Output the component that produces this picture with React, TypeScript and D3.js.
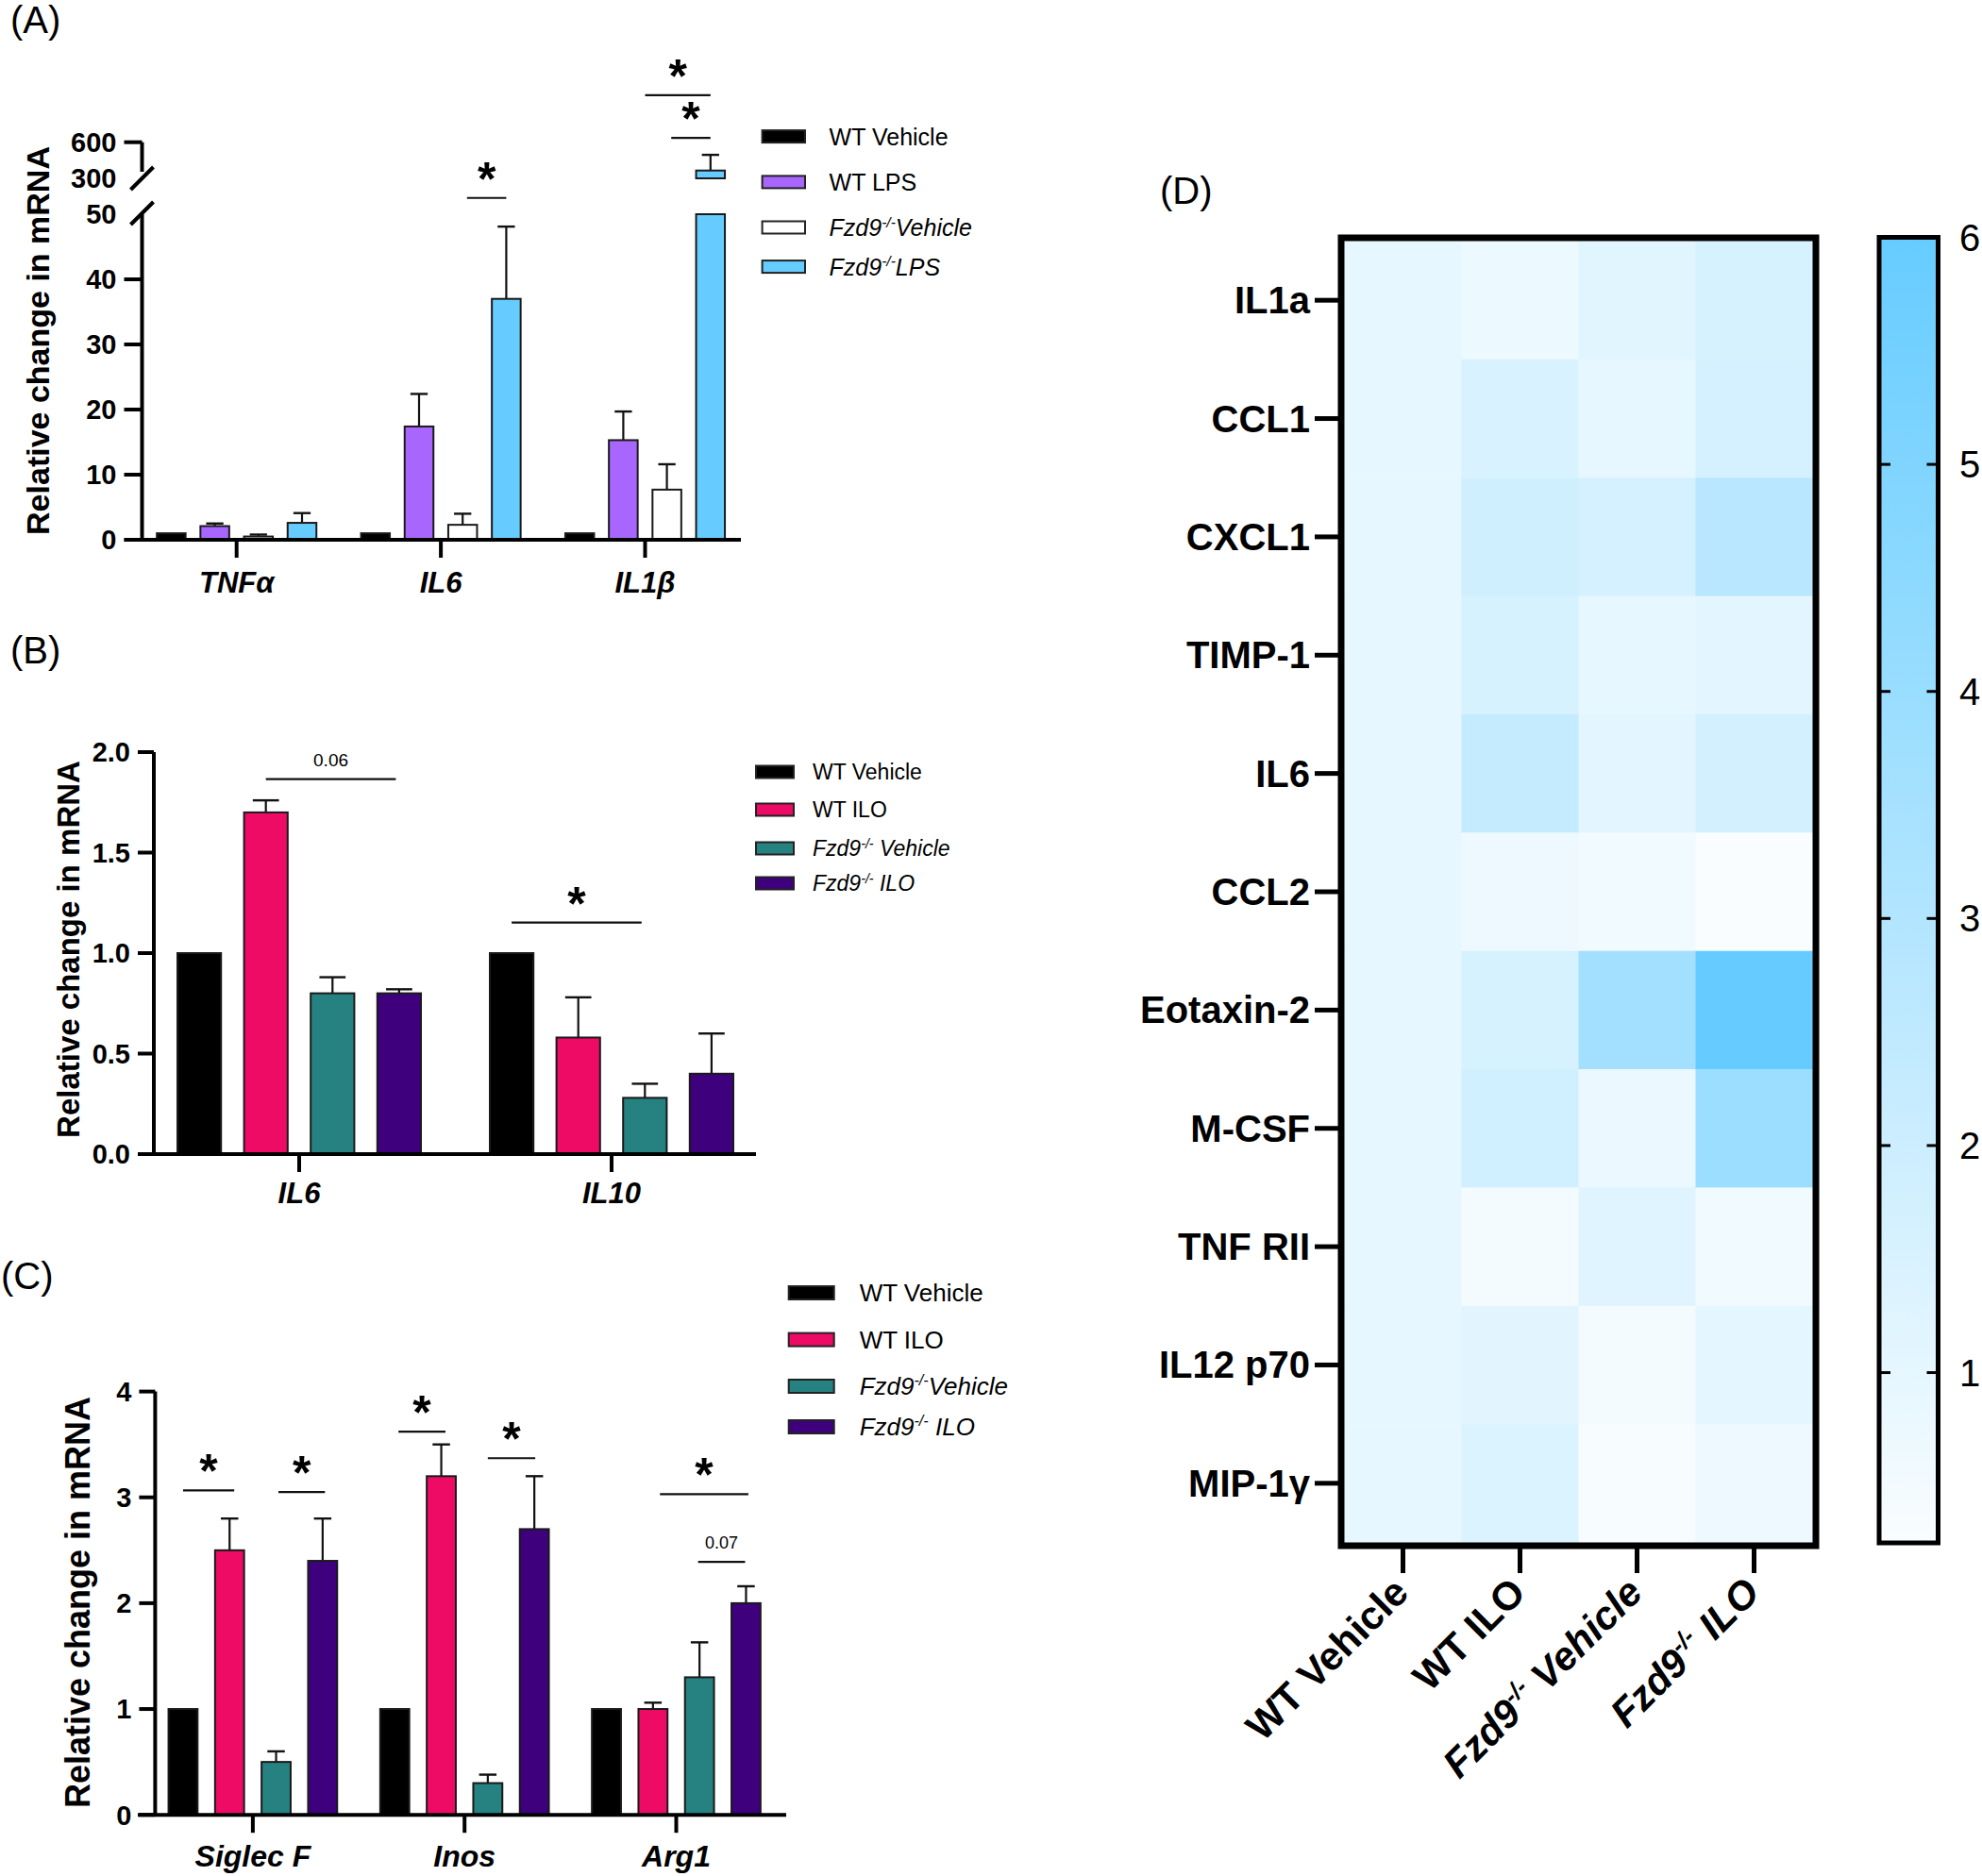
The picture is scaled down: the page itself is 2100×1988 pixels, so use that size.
import React from "react";
import * as d3 from "d3";

const FONT = "'Liberation Sans', Arial, Helvetica, sans-serif";

// ---------------- Panel A data ----------------
const catsA = ["TNFα", "IL6", "IL1β"];
const seriesA = ["WT Vehicle", "WT LPS", "Fzd9-/-Vehicle", "Fzd9-/-LPS"];
const wtVehicleA = [1, 1, 1];
const wtLpsA = [2.1, 17.4, 15.3];
const fzdVehicleA = [0.5, 2.3, 7.7];
const fzdLpsA = [2.6, 37.0, 365];
const wtVehicleErrA = [0, 0, 0];
const wtLpsErrA = [2.5, 22.4, 19.7];
const fzdVehicleErrA = [0.8, 4.0, 11.6];
const fzdLpsErrA = [4.1, 48.1, 495];
const ticksLowA = [0, 10, 20, 30, 40, 50];
const ticksHighA = [300, 600];
const colorsA = ["#000000", "#A966FF", "#FFFFFF", "#66CCFF"];
const sigA = [
  { cat: 1, from: 2.1, to: 3, y: 52.5, label: "*" },
  { cat: 2, from: 1.5, to: 3, y: 990, label: "*" },
  { cat: 2, from: 2.1, to: 3, y: 636, label: "*" },
];

// ---------------- Panel B data ----------------
const catsB = ["IL6", "IL10"];
const seriesBC = ["WT Vehicle", "WT ILO", "Fzd9-/- Vehicle", "Fzd9-/- ILO"];
const seriesC = ["WT Vehicle", "WT ILO", "Fzd9-/-Vehicle", "Fzd9-/- ILO"];
const wtVehicleB = [1, 1];
const wtIloB = [1.7, 0.58];
const fzdVehicleB = [0.8, 0.28];
const fzdIloB = [0.8, 0.4];
const wtVehicleErrB = [0, 0];
const wtIloErrB = [1.76, 0.78];
const fzdVehicleErrB = [0.88, 0.35];
const fzdIloErrB = [0.82, 0.6];
const ticksB = [0, 0.5, 1.0, 1.5, 2.0];
const colorsBC = ["#000000", "#EE0B65", "#268181", "#3F007D"];
const sigB = [
  { cat: 0, from: 1, to: 2.95, y: 1.866, label: "0.06" },
  { cat: 1, from: 0, to: 1.95, y: 1.152, label: "*" },
];

// ---------------- Panel C data ----------------
const catsC = ["Siglec F", "Inos", "Arg1"];
const wtVehicleC = [1, 1, 1];
const wtIloC = [2.5, 3.2, 1.0];
const fzdVehicleC = [0.5, 0.3, 1.3];
const fzdIloC = [2.4, 2.7, 2.0];
const wtVehicleErrC = [0, 0, 0];
const wtIloErrC = [2.8, 3.5, 1.06];
const fzdVehicleErrC = [0.6, 0.38, 1.63];
const fzdIloErrC = [2.8, 3.2, 2.16];
const ticksC = [0, 1, 2, 3, 4];
const sigC = [
  { cat: 0, from: 0, to: 1.1, y: 3.065, label: "*" },
  { cat: 0, from: 2.05, to: 3.05, y: 3.05, label: "*" },
  { cat: 1, from: 0.08, to: 1.09, y: 3.62, label: "*" },
  { cat: 1, from: 2.0, to: 3.02, y: 3.37, label: "*" },
  { cat: 2, from: 1.15, to: 3.05, y: 3.03, label: "*" },
  { cat: 2, from: 1.97, to: 2.98, y: 2.39, label: "0.07" },
];

// ---------------- Panel D data ----------------
const rowsD = ["IL1a", "CCL1", "CXCL1", "TIMP-1", "IL6", "CCL2", "Eotaxin-2", "M-CSF", "TNF RII", "IL12 p70", "MIP-1γ"];
const colsD = ["WT Vehicle", "WT ILO", "Fzd9-/- Vehicle", "Fzd9-/- ILO"];
const wtVehicleD = [1, 1, 1, 1, 1, 1, 1, 1, 1, 1, 1];
const wtIloD = [0.75, 1.5, 1.9, 1.6, 2.3, 0.7, 1.6, 1.8, 0.45, 1.15, 1.4];
const fzdVehicleD = [1.2, 1.0, 1.65, 1.0, 1.1, 0.6, 3.6, 0.8, 1.25, 0.45, 0.35];
const fzdIloD = [1.6, 1.65, 2.8, 1.1, 1.75, 0.2, 6.0, 3.9, 0.6, 1.05, 0.7];
const colorTicksD = [1, 2, 3, 4, 5, 6];
const colorDomainD = [0.25, 6];

// ---------------- helpers ----------------
function labelContent(label: string, fs: number) {
  const m = label.match(/^Fzd9-\/-(.*)$/);
  if (!m) return label;
  return [
    <tspan key="a">Fzd9</tspan>,
    <tspan key="b" fontSize={fs * 0.62} dy={-fs * 0.38}>-/-</tspan>,
    <tspan key="c" dy={fs * 0.38} style={{ whiteSpace: "pre" }}>{m[1]}</tspan>,
  ];
}
const isItalic = (l: string) => l.startsWith("Fzd9");

function Star({ x, lineY, label, fs }: { x: number; lineY: number; label: string; fs: number }) {
  if (label === "*") {
    return (
      <text x={x} y={lineY - 3} textAnchor="middle" fontSize={50} fontWeight="bold" fontFamily={FONT}>*</text>
    );
  }
  return (
    <text x={x} y={lineY - 14} textAnchor="middle" fontSize={fs} fontFamily={FONT}>{label}</text>
  );
}

type Sig = { cat: number; from: number; to: number; y: number; label: string };

function Legend({ series, colors, x, w, h, ys, textX, fs }: any) {
  return (
    <g>
      {series.map((s: string, i: number) => (
        <g key={s}>
          <rect x={x} y={ys[i] - h / 2} width={w} height={h} fill={colors[i]} stroke="#222" strokeWidth={2} />
          <text x={textX} y={ys[i] + fs * 0.36} fontSize={fs} fontFamily={FONT} fontStyle={isItalic(s) ? "italic" : "normal"}>
            {labelContent(s, fs)}
          </text>
        </g>
      ))}
    </g>
  );
}

function BarsAndErrors({ cats, values, errs, colors, gx, off, barW, pos, segs }: any) {
  const out: any[] = [];
  cats.forEach((c: string, ci: number) => {
    values.forEach((vals: number[], si: number) => {
      const cx = (gx(c) as number) + off(si);
      const v = vals[ci];
      const e = errs[si][ci];
      if (e > 0) {
        const yt = pos(v);
        const ye = pos(e);
        out.push(<line key={`el${ci}-${si}`} x1={cx} x2={cx} y1={yt} y2={ye} stroke="#111" strokeWidth={2.2} />);
        out.push(<line key={`ec${ci}-${si}`} x1={cx - barW * 0.3} x2={cx + barW * 0.3} y1={ye} y2={ye} stroke="#111" strokeWidth={2.4} />);
      }
      segs(v).forEach((sg: number[], k: number) => {
        out.push(
          <rect key={`b${ci}-${si}-${k}`} x={cx - barW / 2} y={sg[0]} width={barW} height={Math.max(0, sg[1] - sg[0])}
            fill={colors[si]} stroke="#1a1a1a" strokeWidth={2} />
        );
      });
    });
  });
  return <g>{out}</g>;
}

function SigMarks({ sigs, cats, gx, off, ypos, fs }: any) {
  return (
    <g>
      {sigs.map((s: Sig, i: number) => {
        const g = gx(cats[s.cat]) as number;
        const x1 = g + off(s.from);
        const x2 = g + off(s.to);
        const y = ypos(s.y);
        return (
          <g key={i}>
            <line x1={x1} x2={x2} y1={y} y2={y} stroke="#111" strokeWidth={2.2} />
            <Star x={(x1 + x2) / 2} lineY={y} label={s.label} fs={fs} />
          </g>
        );
      })}
    </g>
  );
}

function YTitle({ cx, cy, fs }: { cx: number; cy: number; fs: number }) {
  return (
    <text transform={`translate(${cx + fs * 0.36},${cy}) rotate(-90)`} textAnchor="middle" fontSize={fs}
      fontWeight="bold" fontFamily={FONT}>Relative change in mRNA</text>
  );
}

function CatAxis({ cats, gx, y0, xr, catY, fs }: any) {
  return (
    <g>
      <line x1={xr[0]} x2={xr[1]} y1={y0} y2={y0} stroke="#000" strokeWidth={4} />
      {cats.map((c: string) => (
        <g key={c}>
          <line x1={gx(c)} x2={gx(c)} y1={y0} y2={y0 + 19} stroke="#000" strokeWidth={4} />
          <text x={gx(c)} y={catY} textAnchor="middle" fontSize={fs} fontWeight="bold" fontStyle="italic" fontFamily={FONT}>{c}</text>
        </g>
      ))}
    </g>
  );
}

// ---------------- Panel A ----------------
function PanelA() {
  const axisX = 150.5;
  const yLow = d3.scaleLinear().domain([0, 50]).range([572, 227]);
  const yHigh = d3.scaleLinear().domain([300, 600]).range([189, 150.7]);
  const gx = d3.scalePoint<string>().domain(catsA).range([250.7, 683.5]);
  const off = d3.scaleLinear().domain([0, 3]).range([-1.5 * 46.2, 1.5 * 46.2]);
  const barW = 30.5;
  const pos = (v: number) => (v > 50 && v >= 300 ? yHigh(v) : yLow(v));
  const segs = (v: number) => (v > 50 ? [[yLow(50), yLow(0)], [yHigh(v), yHigh(300)]] : [[yLow(v), yLow(0)]]);
  const values = [wtVehicleA, wtLpsA, fzdVehicleA, fzdLpsA];
  const errs = [wtVehicleErrA, wtLpsErrA, fzdVehicleErrA, fzdLpsErrA];
  const tickFs = 29;
  return (
    <g>
      <text x={11} y={35} fontSize={40} fontFamily={FONT}>(A)</text>
      <YTitle cx={40} cy={361} fs={34} />
      {/* lower axis */}
      <line x1={axisX} x2={axisX} y1={yLow(50)} y2={yLow(0)} stroke="#000" strokeWidth={4} />
      <line x1={axisX - 12} x2={axisX + 12} y1={yLow(50) + 11} y2={yLow(50) - 13} stroke="#000" strokeWidth={4} />
      {ticksLowA.map((t) => (
        <g key={t}>
          {t !== 50 && <line x1={axisX - 19} x2={axisX} y1={yLow(t)} y2={yLow(t)} stroke="#000" strokeWidth={4} />}
          <text x={axisX - 27} y={yLow(t) + tickFs * 0.36} textAnchor="end" fontSize={tickFs} fontWeight="bold" fontFamily={FONT}>{t}</text>
        </g>
      ))}
      {/* upper axis */}
      <line x1={axisX} x2={axisX} y1={yHigh(600)} y2={yHigh(300) - 7} stroke="#000" strokeWidth={4} />
      <line x1={axisX - 12} x2={axisX + 12} y1={yHigh(300) + 12} y2={yHigh(300) - 12} stroke="#000" strokeWidth={4} />
      {ticksHighA.map((t) => (
        <g key={t}>
          {t !== 300 && <line x1={axisX - 19} x2={axisX} y1={yHigh(t)} y2={yHigh(t)} stroke="#000" strokeWidth={4} />}
          <text x={axisX - 27} y={yHigh(t) + tickFs * 0.36} textAnchor="end" fontSize={tickFs} fontWeight="bold" fontFamily={FONT}>{t}</text>
        </g>
      ))}
      <BarsAndErrors cats={catsA} values={values} errs={errs} colors={colorsA} gx={gx} off={off} barW={barW} pos={pos} segs={segs} />
      <CatAxis cats={catsA} gx={gx} y0={yLow(0)} xr={[131.7, 785]} catY={628} fs={31} />
      <SigMarks sigs={sigA} cats={catsA} gx={gx} off={off} ypos={pos} fs={19} />
      <Legend series={seriesA} colors={colorsA} x={807.6} w={45.4} h={13} ys={[144.6, 192.9, 241, 282.6]} textX={878.6} fs={25} />
    </g>
  );
}

// ---------------- Generic panel (B, C) ----------------
function SimplePanel({ label, labelPos, cats, values, errs, colors, yDomain, yRange, ticks, fmt, axisX, xr, groupRange, step, barW, catY, catFs, title, sigs, sigFs, legend }: any) {
  const y = d3.scaleLinear().domain(yDomain).range(yRange);
  const gx = d3.scalePoint<string>().domain(cats).range(groupRange);
  const off = d3.scaleLinear().domain([0, 3]).range([-1.5 * step, 1.5 * step]);
  const tickFs = 29;
  return (
    <g>
      <text x={labelPos[0]} y={labelPos[1]} fontSize={40} fontFamily={FONT}>{label}</text>
      <YTitle cx={title[0]} cy={title[1]} fs={title[2]} />
      <line x1={axisX} x2={axisX} y1={y(yDomain[1])} y2={y(yDomain[0])} stroke="#000" strokeWidth={4} />
      {ticks.map((t: number) => (
        <g key={t}>
          <line x1={axisX - 17} x2={axisX} y1={y(t)} y2={y(t)} stroke="#000" strokeWidth={4} />
          <text x={axisX - 25} y={y(t) + tickFs * 0.36} textAnchor="end" fontSize={tickFs} fontWeight="bold" fontFamily={FONT}>{fmt(t)}</text>
        </g>
      ))}
      <BarsAndErrors cats={cats} values={values} errs={errs} colors={colors} gx={gx} off={off} barW={barW}
        pos={(v: number) => y(v)} segs={(v: number) => [[y(v), y(0)]]} />
      <CatAxis cats={cats} gx={gx} y0={y(0)} xr={xr} catY={catY} fs={catFs} />
      <SigMarks sigs={sigs} cats={cats} gx={gx} off={off} ypos={(v: number) => y(v)} fs={sigFs} />
      <Legend {...legend} colors={colors} />
    </g>
  );
}

// ---------------- Panel D ----------------
function PanelD() {
  const colVals = [wtVehicleD, wtIloD, fzdVehicleD, fzdIloD];
  const color = d3.scaleLinear<string>().domain([0, 6]).range(["#ffffff", "#66ccff"]);
  const x = d3.scaleBand<string>().domain(colsD).range([1424.5, 1920.5]);
  const y = d3.scaleBand<string>().domain(rowsD).range([255.5, 1634.5]);
  const cb = d3.scaleLinear().domain(colorDomainD).range([1635, 251.5]);
  const cbX0 = 1991, cbX1 = 2053.5;
  const stops = d3.range(0, 11).map((i) => colorDomainD[0] + (i / 10) * (colorDomainD[1] - colorDomainD[0]));
  return (
    <g>
      <text x={1229} y={216} fontSize={40} fontFamily={FONT}>(D)</text>
      {colVals.map((vals, ci) =>
        vals.map((v, ri) => (
          <rect key={`${ci}-${ri}`} x={x(colsD[ci])} y={y(rowsD[ri])} width={x.bandwidth() + 0.5} height={y.bandwidth() + 0.5} fill={color(v)} />
        ))
      )}
      <rect x={1421} y={252} width={503} height={1386} fill="none" stroke="#000" strokeWidth={7} />
      {rowsD.map((r) => {
        const cy = (y(r) as number) + y.bandwidth() / 2;
        return (
          <g key={r}>
            <line x1={1393} x2={1421} y1={cy} y2={cy} stroke="#000" strokeWidth={5} />
            <text x={1388} y={cy + 14} textAnchor="end" fontSize={40} fontWeight="bold" fontFamily={FONT}>{r}</text>
          </g>
        );
      })}
      {colsD.map((c) => {
        const cx = (x(c) as number) + x.bandwidth() / 2;
        return (
          <g key={c}>
            <line x1={cx} x2={cx} y1={1638} y2={1667} stroke="#000" strokeWidth={5} />
            <text transform={`translate(${cx + 8},${1690}) rotate(-45)`} textAnchor="end" fontSize={42} fontWeight="bold"
              fontStyle={isItalic(c) ? "italic" : "normal"} fontFamily={FONT}>{labelContent(c, 42)}</text>
          </g>
        );
      })}
      <defs>
        <linearGradient id="cbgrad" x1="0" y1="1" x2="0" y2="0">
          {stops.map((s, i) => (
            <stop key={i} offset={`${(i / 10) * 100}%`} stopColor={color(s)} />
          ))}
        </linearGradient>
      </defs>
      <rect x={cbX0} y={cb(colorDomainD[1])} width={cbX1 - cbX0} height={cb(colorDomainD[0]) - cb(colorDomainD[1])}
        fill="url(#cbgrad)" stroke="#000" strokeWidth={5} />
      {colorTicksD.map((t) => (
        <g key={t}>
          {t < 6 && <line x1={cbX0 + 2} x2={cbX0 + 12} y1={cb(t)} y2={cb(t)} stroke="#000" strokeWidth={3} />}
          {t < 6 && <line x1={cbX1 - 12} x2={cbX1 - 2} y1={cb(t)} y2={cb(t)} stroke="#000" strokeWidth={3} />}
          <text x={2076} y={cb(t) + 14} fontSize={40} fontFamily={FONT}>{t}</text>
        </g>
      ))}
    </g>
  );
}

export default function App() {
  return (
    <div style={{ position: "absolute", left: 0, top: 0, width: 2100, height: 1988, background: "#fff" }}>
      <svg width={2100} height={1988} viewBox="0 0 2100 1988" xmlns="http://www.w3.org/2000/svg">
        <rect x={0} y={0} width={2100} height={1988} fill="#fff" />
        <PanelA />
        <SimplePanel
          label="(B)" labelPos={[11, 703]} cats={catsB}
          values={[wtVehicleB, wtIloB, fzdVehicleB, fzdIloB]}
          errs={[wtVehicleErrB, wtIloErrB, fzdVehicleErrB, fzdIloErrB]}
          colors={colorsBC} yDomain={[0, 2]} yRange={[1223, 797]} ticks={ticksB} fmt={d3.format(".1f")}
          axisX={163} xr={[147, 801]} groupRange={[317, 648]} step={70.6} barW={46.2}
          catY={1275} catFs={31} title={[72, 1006, 33]} sigs={sigB} sigFs={19}
          legend={{ series: seriesBC, x: 801, w: 40, h: 13, ys: [818, 858, 899, 936], textX: 861, fs: 23 }}
        />
        <SimplePanel
          label="(C)" labelPos={[1, 1366]} cats={catsC}
          values={[wtVehicleC, wtIloC, fzdVehicleC, fzdIloC]}
          errs={[wtVehicleErrC, wtIloErrC, fzdVehicleErrC, fzdIloErrC]}
          colors={colorsBC} yDomain={[0, 4]} yRange={[1923.2, 1474.6]} ticks={ticksC} fmt={d3.format("d")}
          axisX={164.4} xr={[146, 833]} groupRange={[267.9, 716.5]} step={49.3} barW={30.8}
          catY={1978} catFs={32} title={[82, 1698, 36]} sigs={sigC} sigFs={18}
          legend={{ series: seriesC, x: 835.7, w: 48, h: 14, ys: [1370, 1419.6, 1469, 1512], textX: 910.7, fs: 26 }}
        />
        <PanelD />
      </svg>
    </div>
  );
}
